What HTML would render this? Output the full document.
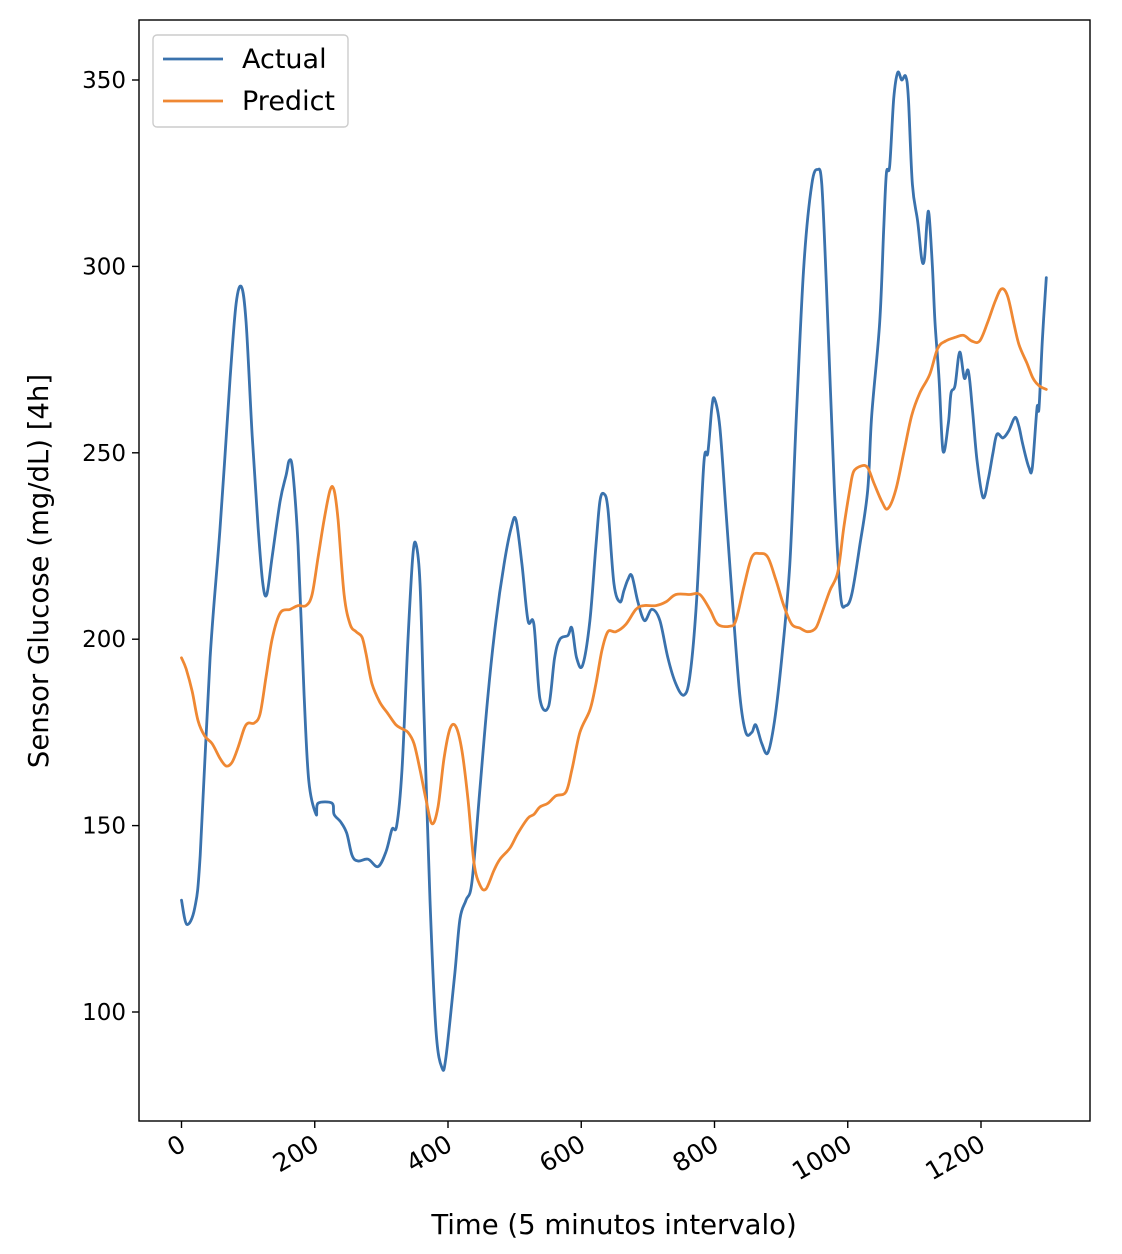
<!DOCTYPE html>
<html><head><meta charset="utf-8"><style>
body{margin:0;background:#fff}
svg{display:block;font-family:"DejaVu Sans","Liberation Sans",sans-serif}
</style></head><body>
<svg id="chart" width="1122" height="1254" viewBox="0 0 1122 1254"></svg>
<script>
const xTicks=[0,200,400,600,800,1000,1200];
const yTicks=[100,150,200,250,300,350];
const actualX=[0,8,20,28,43,58,73,82,90,97,106,115,122,128,136,148,157,162,167,175,184,191,202,205,226,229,239,248,256,265,280,295,307,316,323,331,340,347,352,358,364,373,382,391,397,410,418,427,436,448,460,472,484,495,502,511,520,529,538,551,560,568,580,586,593,602,613,622,628,634,640,649,658,664,670,676,685,695,706,718,730,742,754,763,773,784,790,796,800,808,817,827,838,847,856,862,871,880,890,901,913,923,934,946,955,961,968,980,989,997,1006,1018,1030,1036,1048,1054,1058,1063,1069,1075,1081,1087,1091,1097,1105,1111,1115,1119,1122,1127,1131,1137,1143,1151,1155,1161,1168,1175,1181,1187,1194,1203,1211,1218,1224,1233,1242,1251,1257,1263,1272,1277,1284,1287,1292,1298];
const actualY=[130,123.5,128,142,195,230,270,290,294.5,285,255,230,215,212,222,237,244,248,245,225,185,162,153,156,156,153,151,148,142,140.5,141,139,143,149,150,165,200,222,225.5,215,180,130,95,85,88,110,125,130,135,160,185,205,220,230,232,220,205,204,184,182,195,200,201,203,195,193,205,225,237,239,235,215,210,213,216,217,210,205,208,205,195,188,185,190,210,247,250,262,264.5,257,235,210,185,175,175,177,172,169.5,178,195,220,260,300,322,326,322,295,240,212,209,212,225,240,260,285,310,325,327,345,352,350,351,345,322,312,302,302,312,314,300,285,270,250.5,258,266,268,277,270,272,262,248,238,243,250,255,254,256,259.5,257,252,246,246,262,262,280,297];
const predX=[0,7,16,25,35,46,58,67,76,85,94,100,109,118,127,136,148,163,175,187,196,205,214,223,229,235,244,253,262,271,277,286,298,310,322,331,340,349,358,367,376,385,394,403,412,421,430,439,448,457,469,478,493,505,520,529,538,550,562,577,586,598,613,622,631,640,652,667,682,694,712,727,742,763,778,793,805,823,832,844,856,868,880,892,904,916,928,940,952,961,973,985,994,1003,1009,1021,1030,1039,1051,1060,1072,1084,1096,1108,1123,1135,1147,1162,1174,1186,1198,1210,1222,1231,1240,1249,1257,1269,1278,1287,1298];
const predY=[195,192,186,178,174,172,168,166,167,171,176,177.5,177.5,180,190,200,207,208,209,209,212,222,232,240,240,232,212,204,202,200.5,196,188,183,180,177,176,175,172,165,157,150.5,155,168,176,176.5,170,157,140,134,133,138,141,144,148,152,153,155,156,158,159,165,175,181,188,197,202,202,204,208,209,209,210,212,212,212,208,204,203.5,205,214,222,223,222,216,209,204,203,202,203,207,213,218,230,240,245,246.5,246,242,237,235,240,250,260,266,271,278,280,281,281.5,280,280,285,291,294,292,285,279,274,270,268,267];

const L=139,R=1090,T=20,B=1121;
const xs=v=>181.5+v*(981-181.5)/1200;
const ys=v=>1012-(v-100)*(1012-80)/250;
const svg=document.getElementById('chart');
function mk(tag,attrs,parent){const e=document.createElementNS('http://www.w3.org/2000/svg',tag);for(const k in attrs)e.setAttribute(k,attrs[k]);(parent||svg).appendChild(e);return e;}

function line(xArr,yArr,color,name){
  const P=xArr.map((x,i)=>[xs(x),ys(yArr[i])]);
  let d='M'+P[0][0].toFixed(1)+','+P[0][1].toFixed(1);
  for(let i=0;i<P.length-1;i++){
    const p0=P[i-1]||P[i],p1=P[i],p2=P[i+1],p3=P[i+2]||P[i+1];
    const c1=[p1[0]+(p2[0]-p0[0])/6,p1[1]+(p2[1]-p0[1])/6];
    const c2=[p2[0]-(p3[0]-p1[0])/6,p2[1]-(p3[1]-p1[1])/6];
    d+='C'+c1.map(v=>v.toFixed(1)).join(',')+' '+c2.map(v=>v.toFixed(1)).join(',')+' '+p2[0].toFixed(1)+','+p2[1].toFixed(1);
  }
  const p=mk('path',{d:d,fill:'none',stroke:color,'stroke-width':2.8,'stroke-linejoin':'round','stroke-linecap':'round'});
  
  
}
line(actualX,actualY,'#3a72ad','actual-line');
line(predX,predY,'#ef8833','predict-line');

const frame=mk('rect',{x:L,y:T,width:R-L,height:B-T,fill:'none',stroke:'#000','stroke-width':1.4});



xTicks.forEach(v=>{
  const x=xs(v);
  mk('line',{x1:x,y1:B,x2:x,y2:B+7,stroke:'#000','stroke-width':1.4});
  const ax=x+6, ay=B+28;
  const t=mk('text',{x:ax,y:ay,'font-size':25,'text-anchor':'end',transform:`rotate(-30 ${ax} ${ay})`});
  t.textContent=v;
  
  
});
yTicks.forEach(v=>{
  const y=ys(v);
  mk('line',{x1:L-7,y1:y,x2:L,y2:y,stroke:'#000','stroke-width':1.4});
  const t=mk('text',{x:L-13,y:y+8,'font-size':23,'text-anchor':'end'});
  t.textContent=v;
  
  
});
const xt=mk('text',{x:614,y:1234,'font-size':27.5,'text-anchor':'middle'});
xt.textContent='Time (5 minutos intervalo)';


const yt=mk('text',{x:48,y:571,'font-size':27.5,'text-anchor':'middle',transform:'rotate(-90 48 571)'});
yt.textContent='Sensor Glucose (mg/dL) [4h]';



const lg=mk('g',{});


mk('rect',{x:153,y:35,width:195,height:92,rx:4,fill:'#fff',stroke:'#ccc','stroke-width':1.4},lg);
[['Actual','#3a72ad',59],['Predict','#ef8833',101]].forEach(([n,c,y])=>{
  mk('line',{x1:163,y1:y,x2:223,y2:y,stroke:c,'stroke-width':2.8},lg);
  const t=mk('text',{x:242,y:y+9,'font-size':27},lg);
  t.textContent=n;
  
  
});
</script>
</body></html>
